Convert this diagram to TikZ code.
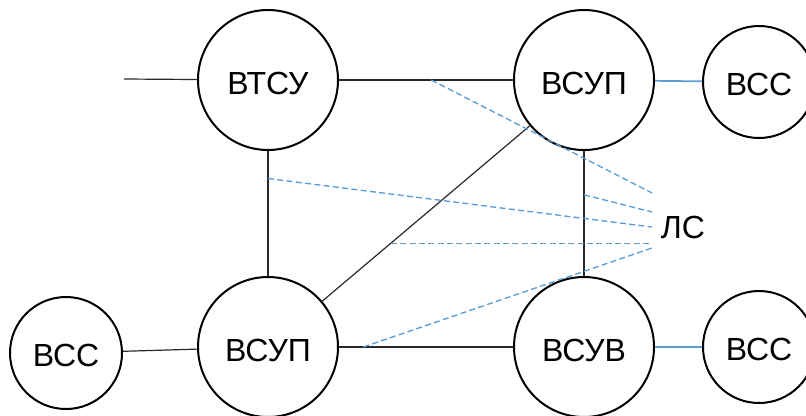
\documentclass[tikz,border=0pt]{standalone}
\usepackage{fontspec}
\setmainfont{Liberation Sans}
\usetikzlibrary{positioning,calc}
\definecolor{linkBlue}{RGB}{91,155,213}
\definecolor{wireGray}{RGB}{40,40,40}
\tikzset{
  station/.style={draw, circle, line width=1.5pt, inner sep=0pt, minimum size=105pt, text height=21pt, text depth=0pt, font=\fontsize{24}{28}\selectfont},
  terminal/.style={draw, circle, line width=1.5pt, inner sep=0pt, minimum size=84pt, text height=20pt, text depth=0pt, font=\fontsize{24}{28}\selectfont},
  wire/.style={line width=0.9pt, color=wireGray},
  bluewire/.style={line width=1.3pt, color=linkBlue},
  lslink/.style={line width=1pt, color=linkBlue, dash pattern=on 4.5pt off 2.5pt}
}

\begin{document}
\begin{tikzpicture}[node distance=93.75pt and 130.5pt]
  \useasboundingbox (0,0) rectangle (604.5pt,-311.25pt);
  % upper row
  \node[station] (vtsu) at (201pt,-60pt) {ВТСУ};
  \node[station, right=of vtsu] (vsup) {ВСУП};
  \node[terminal, right=35.25pt of vsup, yshift=-1.5pt] (vssA) {ВСС};
  % lower row
  \node[station, below=of vtsu] (vsupB) {ВСУП};
  \node[station, right=of vsupB] (vsuv) {ВСУВ};
  \node[terminal, left=55.5pt of vsupB, yshift=-4.5pt] (vssB) {ВСС};
  \node[terminal, right=35.25pt of vsuv] (vssC) {ВСС};
  % line-of-communication label and its fan of taps
  \node[font=\fontsize{24}{28}\selectfont] (ls) at (512.25pt,-170.25pt) {ЛС};
  \coordinate (feed) at (93pt,-59.25pt);
  \coordinate (ls1) at (489pt,-144.75pt);
  \coordinate (ls2) at (489pt,-159pt);
  \coordinate (ls3) at (489pt,-170.25pt);
  \coordinate (ls5) at (489pt,-186pt);
  \coordinate (tap4) at ($(vsupB)!0.3887!(vsup)$);

  \draw[wire] (feed) -- (vtsu);
  \draw[wire] (vtsu) -- (vsup);
  \draw[bluewire] (vsup) -- (vssA);
  \draw[wire] (vtsu) -- (vsupB);
  \draw[wire] (vsup) -- (vsuv);
  \draw[wire] (vsupB) -- (vsup);
  \draw[wire] (vssB) -- (vsupB);
  \draw[wire] (vsupB) -- (vsuv);
  \draw[bluewire] (vsuv) -- (vssC);

  \draw[lslink] ($(vtsu.east)!0.53!(vsup.west)$) -- (ls1);
  \draw[lslink] ($(vsup.south)!0.35!(vsuv.north)$) -- (ls2);
  \draw[lslink] ($(vtsu.south)!0.22!(vsupB.north)$) -- (ls3);
  \draw[lslink] (tap4) -- (tap4 -| ls1);
  \draw[lslink] ($(vsupB.east)!0.14!(vsuv.west)$) -- (ls5);
\end{tikzpicture}
\end{document}
